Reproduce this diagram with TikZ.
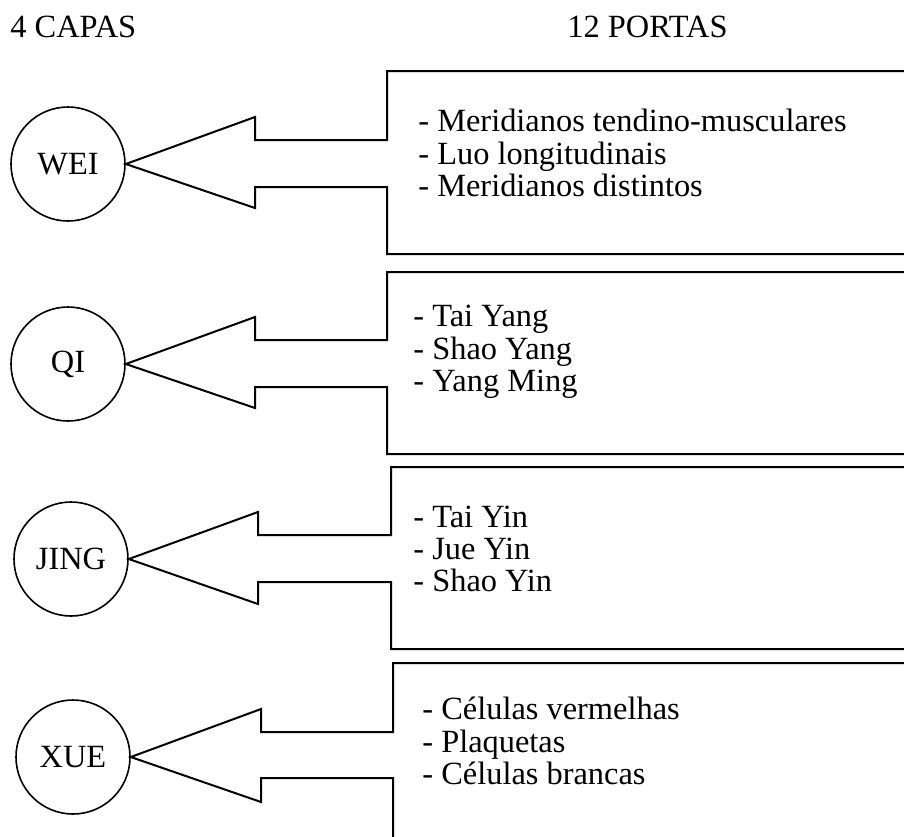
\documentclass[tikz,border=0pt]{standalone}
\usepackage{fontspec}
\setmainfont{Liberation Serif}

\begin{document}
\begin{tikzpicture}[x=0.5pt, y=-0.5pt,
    capa/.style={circle, draw, line width=0.8pt, minimum size=57pt, inner sep=0pt,
        font=\fontsize{16.2}{18}\selectfont},
    porta/.style={draw, line width=1pt},
    lista/.style={anchor=west, align=left, inner sep=0pt,
        font=\fontsize{16.2}{16.2}\selectfont},
    titulo/.style={anchor=base west, inner sep=0pt, font=\fontsize{16.2}{18}\selectfont}]

    % 1. Rahmen des Bildes (rechts offene Kästen werden abgeschnitten)
    \useasboundingbox (0,0) rectangle (904,836);
    \clip (0,0) rectangle (904,836);

    % 2. Überschriften
    \node[titulo] (capas) at (10,37) {4 CAPAS};
    \node[titulo] (portas) at (567,37) {12 PORTAS};

    % 3. Die vier Schichten als Kreise
    \node[capa] (wei) at (68,164) {WEI};
    \node[capa] (qi) at (68,364) {QI};
    \node[capa] (jing) at (71,559) {JING};
    \node[capa] (xue) at (73,757) {XUE};

    % 4. Kästen mit Pfeil zur jeweiligen Schicht
    \draw[porta] (910,71) -| (387,140) -| (255,117) -- (wei.east) -- (255,208) |- (387,187) |- (910,254);
    \draw[porta] (910,272) -| (387,340) -| (255,317) -- (qi.east) -- (255,408) |- (387,387) |- (910,454);
    \draw[porta] (910,467) -| (391,535) -| (258,512) -- (jing.east) -- (258,604) |- (391,582) |- (910,649);
    \draw[porta] (910,663) -| (393,732) -| (261,709) -- (xue.east) -- (261,802) |- (393,778) -- (393,840);

    % 5. Inhalte der Kästen
    \node[lista] (wei-lista) at (418,153) {- Meridianos tendino-musculares\\- Luo longitudinais\\- Meridianos distintos};
    \node[lista] (qi-lista) at (413,352) {- Tai Yang\\- Shao Yang\\- Yang Ming};
    \node[lista] (jing-lista) at (413,549) {- Tai Yin\\- Jue Yin\\- Shao Yin};
    \node[lista] (xue-lista) at (422,741) {- Células vermelhas\\- Plaquetas\\- Células brancas};

\end{tikzpicture}
\end{document}
